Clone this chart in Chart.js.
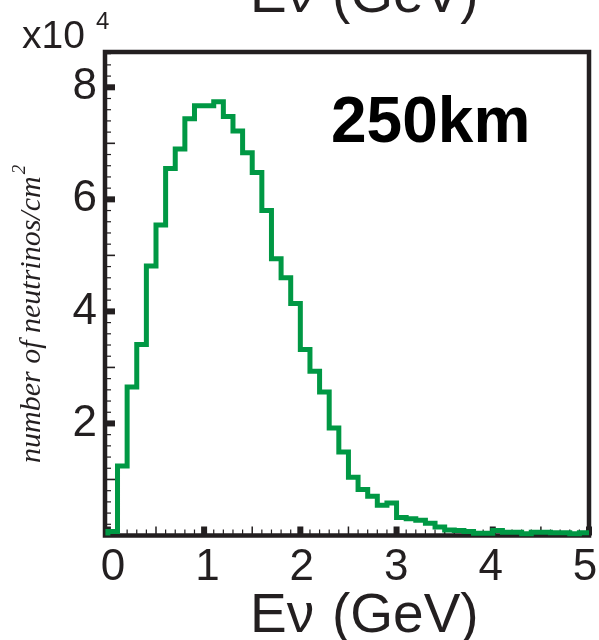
<!DOCTYPE html>
<html>
<head>
<meta charset="utf-8">
<script src="https://cdn.jsdelivr.net/npm/chart.js@4"></script>
<style>
  body { margin: 0; background: #fff; }
  #flux { display: block; }
</style>
</head>
<body>
<canvas id="flux" width="599" height="640"></canvas>
<script>
// neutrino flux per 0.1 GeV bin, 250 km baseline
const binStart = 0;
const binWidth = 0.1;
const counts = [
  700, 12400, 26500, 34100, 48100, 55400, 65500, 69000, 74400, 76700,
  76700, 77400, 74800, 72200, 68300, 64800, 58000, 49400, 46000, 41400,
  33200, 29300, 25600, 19200, 14900, 10400, 8200, 7000, 5400, 5800,
  3200, 3000, 2700, 2200, 1500, 1000, 900, 700, 400, 400,
  900, 600, 600, 300, 600, 600, 500, 500, 300, 500
];
const xTicks = [0, 1, 2, 3, 4, 5];
const yTicks = [20000, 40000, 60000, 80000];
const yMax = 86300;
const distanceLabel = "250km";

const ink = "#231f20";
const green = "#009844";
const sans = "'Liberation Sans', Arial, sans-serif";

// histogram: one point per bin low edge, plus the closing edge
const points = [{ x: binStart, y: 0 }];
counts.forEach((c, i) => points.push({ x: binStart + i * binWidth, y: c }));
points.push({ x: binStart + counts.length * binWidth, y: counts[counts.length - 1] });

const framePlugin = {
  id: "frame",
  beforeDatasetsDraw(chart) {
    const { ctx, chartArea: a, scales: { x, y } } = chart;
    ctx.save();
    ctx.fillStyle = ink;
    // bottom axis: inward ticks
    for (let k = 0; k <= 50; k++) {
      const px = x.getPixelForValue(k / 10);
      if (k % 10 === 0) ctx.fillRect(px - 3, a.bottom - 9, 6, 9);
      else if (k % 5 === 0) ctx.fillRect(px - 0.75, a.bottom - 9, 1.5, 9);
      else ctx.fillRect(px - 0.6, a.bottom - 6, 1.2, 6);
    }
    // left axis: inward ticks
    for (let k = 1; k <= 43; k++) {
      const py = y.getPixelForValue(k * 2000);
      if (k % 10 === 0) ctx.fillRect(a.left, py - 3, 10, 6);
      else if (k % 5 === 0) ctx.fillRect(a.left, py - 0.8, 10, 1.6);
      else ctx.fillRect(a.left, py - 0.6, 6, 1.2);
    }
    ctx.strokeStyle = ink;
    ctx.lineWidth = 4.5;
    ctx.strokeRect(a.left, a.top, a.right - a.left, a.bottom - a.top);
    ctx.restore();
  },
  afterDraw(chart) {
    const { ctx } = chart;
    ctx.save();
    ctx.fillStyle = ink;
    ctx.textBaseline = "alphabetic";
    ctx.textAlign = "left";

    // x axis title (and the cut-off one from the panel above)
    ctx.font = "55px " + sans;
    [632, 12].forEach((base) => {
      ctx.fillText("E\u03bd", 250, base);
      ctx.fillText("(GeV)", 332, base);
    });

    // multiplier
    ctx.font = "39px " + sans;
    ctx.fillText("x10", 22, 48);
    ctx.font = "24px " + sans;
    ctx.fillText("4", 96, 29);

    // distance label
    ctx.fillStyle = "#000";
    ctx.font = "bold 64px " + sans;
    ctx.fillText(distanceLabel, 331, 142);

    // y axis title
    ctx.fillStyle = ink;
    ctx.translate(40, 463);
    ctx.rotate(-Math.PI / 2);
    ctx.font = "italic 30px 'Liberation Serif', 'Times New Roman', serif";
    const main = "number of neutrinos/cm";
    ctx.fillText(main, 0, 0);
    const w = ctx.measureText(main).width;
    ctx.font = "italic 19px 'Liberation Serif', 'Times New Roman', serif";
    ctx.fillText("2", w + 2, -15);
    ctx.restore();
  }
};

const ctx = document.getElementById("flux").getContext("2d");
new Chart(ctx, {
  type: "line",
  data: {
    datasets: [
      {
        label: distanceLabel,
        data: points,
        stepped: "before",
        borderColor: green,
        borderWidth: 5,
        borderJoinStyle: "miter",
        pointRadius: 0,
        fill: false,
        clip: false,
      },
    ],
  },
  options: {
    responsive: false,
    animation: false,
    layout: { padding: { top: 52, right: 10, left: 0, bottom: 0 } },
    plugins: { legend: { display: false }, tooltip: { enabled: false } },
    scales: {
      x: {
        type: "linear",
        min: -0.03,
        max: 5,
        afterFit: (s) => { s.height = 0; s.paddingLeft = 0; s.paddingRight = 0; },
        grid: { display: false, drawTicks: false },
        border: { display: false },
        ticks: { display: false },
      },
      // the printed energy labels sit on a slightly tighter spacing than the ticks
      xLabels: {
        type: "linear",
        position: "bottom",
        min: -0.085,
        max: 5.042,
        afterBuildTicks: (s) => { s.ticks = xTicks.map((v) => ({ value: v })); },
        afterFit: (s) => { s.height = 104.5; s.paddingLeft = 0; s.paddingRight = 0; },
        grid: { display: false, drawTicks: false },
        border: { display: false },
        ticks: {
          color: ink,
          padding: 6,
          maxRotation: 0,
          font: { family: sans, size: 44 },
        },
      },
      y: {
        min: 0,
        max: yMax,
        afterBuildTicks: (s) => { s.ticks = yTicks.map((v) => ({ value: v })); },
        afterFit: (s) => { s.width = 105; },
        grid: { display: false, drawTicks: false },
        border: { display: false },
        ticks: {
          color: ink,
          padding: 8,
          callback: (v) => v / 10000,
          font: { family: sans, size: 44 },
        },
      },
    },
  },
  plugins: [framePlugin],
});
</script>
</body>
</html>
